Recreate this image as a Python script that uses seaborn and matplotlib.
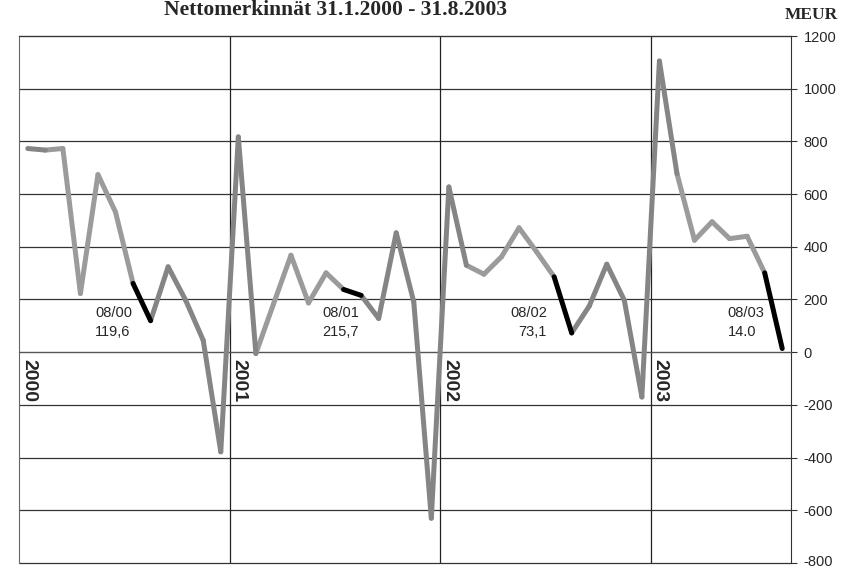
import pandas as pd
import seaborn as sns
import matplotlib.pyplot as plt
import matplotlib.transforms as mtransforms

# nettomerkinnät kuukausittain, MEUR (tammi 2000 - elo 2003)
months = pd.period_range('2000-01', '2003-08', freq='M')
values = [773, 767, 773, 223, 674, 532, 261, 119.6, 324, 197, 45, -378,
          817, -5, 182, 368, 187, 301, 238, 215.7, 128, 453, 191, -630,
          627, 330, 296, 362, 472, 381, 286, 73.1, 175, 334, 197, -170,
          1105, 678, 425, 495, 431, 440, 301, 14.0]
years = ['2000', '2001', '2002', '2003']
notes = [('08/00', '119,6'), ('08/01', '215,7'), ('08/02', '73,1'), ('08/03', '14.0')]
yticks = list(range(-800, 1201, 200))

sns.set_style('white')
plt.rcParams['font.family'] = ['Liberation Sans', 'DejaVu Sans']
plt.rcParams['axes.unicode_minus'] = False

# each segment gets its own shade: Jul->Aug black, spring lighter
rows = []
for i in range(len(values) - 1):
    m = months[i].month
    if m == 7:
        shade = 'black'
    elif 2 <= m <= 6:
        shade = 'light'
    else:
        shade = 'dark'
    for j in (i, i + 1):
        rows.append({'x': j + 0.5, 'y': values[j], 'seg': i, 'shade': shade})
df = pd.DataFrame(rows)

fig = plt.figure(figsize=(8.52, 5.68), dpi=100)
ax = fig.add_axes([19 / 852, 1 - 563 / 568, 772 / 852, 527 / 568])

for v in yticks:
    ax.axhline(v, color='#333333', lw=0.9, zorder=1, clip_on=False)
for k in range(1, 4):
    ax.axvline(12 * k, color='#222222', lw=0.9, zorder=1)

sns.lineplot(data=df, x='x', y='y', units='seg', hue='shade', estimator=None,
             hue_order=['light', 'dark', 'black'],
             palette={'light': '#9b9b9b', 'dark': '#858585', 'black': '#000000'},
             lw=3.6, solid_capstyle='round', legend=False, ax=ax, zorder=3)

ax.set_xlim(0, len(values))
ax.set_ylim(-800, 1200)
ax.set_xticks(range(len(values) + 1))
ax.set_xticklabels([])
ax.set_xlabel('')
ax.set_ylabel('')
ax.spines['bottom'].set_position(('data', 0))
ax.spines['bottom'].set_color('#555555')
ax.spines['left'].set_color('#666666')
ax.spines['top'].set_color('#333333')
ax.spines['right'].set_color('#333333')
ax.tick_params(axis='x', direction='out', length=4, width=0.8, color='#333333')
ax.yaxis.tick_right()
ax.set_yticks(yticks)
ax.tick_params(axis='y', direction='out', length=4, width=0.8, pad=5,
               labelsize=10.5, color='#333333')

# lowest label sits on the bottom edge, lift it a little so it is not cut
fig.canvas.draw()
low = ax.get_yticklabels()[0]
low.set_transform(low.get_transform() +
                  mtransforms.ScaledTranslation(0, 3 / 100, fig.dpi_scale_trans))

for k, yr in enumerate(years):
    ax.text(12 * k + 0.05, -25, yr, rotation=270, ha='left', va='top',
            fontsize=14, fontweight='bold', zorder=4)

note_pos = [(4.33, 'left'), (17.27, 'left'), (30.1, 'right'), (40.4, 'left')]
for (lab, val), (xp, ha) in zip(notes, note_pos):
    ax.text(xp, 148, lab, ha=ha, va='center', fontsize=10.5, zorder=4)
    ax.text(xp, 76, val, ha=ha, va='center', fontsize=10.5, zorder=4)

fig.text(336 / 852, 1 - 10 / 568, 'Nettomerkinnät 31.1.2000 - 31.8.2003',
         ha='center', va='center', fontsize=15.5, fontweight='bold',
         family=['Liberation Serif', 'DejaVu Serif'])
fig.text(811 / 852, 1 - 15 / 568, 'MEUR', ha='center', va='center',
         fontsize=12.5, fontweight='bold', family=['Liberation Serif', 'DejaVu Serif'])

fig.savefig('out.png', dpi=100)
